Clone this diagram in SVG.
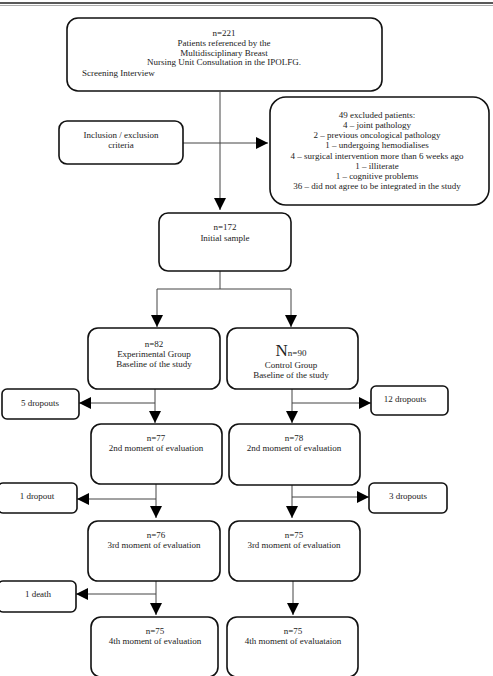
<svg xmlns="http://www.w3.org/2000/svg" width="493" height="676" viewBox="0 0 493 676">
<style>
.box{fill:#fff;stroke:#111;stroke-width:1.6}
.t{font-family:"Liberation Serif","Times New Roman",serif;font-size:9px;fill:#222;text-anchor:middle}
.c{stroke:#444;stroke-width:1;fill:none}
</style>
<defs>
<marker id="ah" markerWidth="12" markerHeight="12" viewBox="0 0 12 12" refX="12" refY="6" orient="auto" markerUnits="userSpaceOnUse">
<path d="M0,0 L12,6 L0,12 Z" fill="#000"/>
</marker>
</defs>
<rect width="493" height="676" fill="#fff"/>
<line x1="0" y1="3" x2="493" y2="3" stroke="#222" stroke-width="1.3"/>
<line x1="0" y1="5.5" x2="493" y2="5.5" stroke="#888" stroke-width="0.7"/>

<g id="connectors">
<path class="c" d="M220,92 V210" marker-end="url(#ah)"/>
<path class="c" d="M183,143 H268" marker-end="url(#ah)"/>
<path class="c" d="M220,271 V289 M157,289 H291"/>
<path class="c" d="M157,289 V327" marker-end="url(#ah)"/>
<path class="c" d="M291,289 V327" marker-end="url(#ah)"/>
<path class="c" d="M155,389 V423" marker-end="url(#ah)"/>
<path class="c" d="M155,403 H79" marker-end="url(#ah)"/>
<path class="c" d="M292,389 V423" marker-end="url(#ah)"/>
<path class="c" d="M292,403 H371" marker-end="url(#ah)"/>
<path class="c" d="M156,484 V518" marker-end="url(#ah)"/>
<path class="c" d="M156,499 H77" marker-end="url(#ah)"/>
<path class="c" d="M292,485 V518" marker-end="url(#ah)"/>
<path class="c" d="M292,497 H369" marker-end="url(#ah)"/>
<path class="c" d="M156,581 V615" marker-end="url(#ah)"/>
<path class="c" d="M156,594 H76" marker-end="url(#ah)"/>
<path class="c" d="M293,581 V615" marker-end="url(#ah)"/>
</g>

<g id="n221">
<rect class="box" x="67" y="18" width="315" height="73" rx="11"/>
<text class="t" x="224" y="36">n=221</text>
<text class="t" x="224" y="46">Patients referenced by the</text>
<text class="t" x="224" y="55.5">Multidisciplinary Breast</text>
<text class="t" x="224" y="65">Nursing Unit Consultation in the IPOLFG.</text>
<text class="t" x="82" y="76" style="text-anchor:start">Screening Interview</text>
</g>

<g id="criteria">
<rect class="box" x="59" y="121" width="124" height="43" rx="8"/>
<text class="t" x="121" y="138">Inclusion / exclusion</text>
<text class="t" x="121" y="148">criteria</text>
</g>

<g id="excluded">
<rect class="box" x="270" y="97" width="219" height="108" rx="16"/>
<text class="t" x="377" y="118">49 excluded patients:</text>
<text class="t" x="377" y="128">4 – joint pathology</text>
<text class="t" x="377" y="138">2 – previous oncological pathology</text>
<text class="t" x="377" y="148">1 – undergoing hemodialises</text>
<text class="t" x="377" y="159">4 – surgical intervention more than 6 weeks ago</text>
<text class="t" x="377" y="169">1 – illiterate</text>
<text class="t" x="377" y="179">1 – cognitive problems</text>
<text class="t" x="377" y="189">36 – did not agree to be integrated in the study</text>
</g>

<g id="n172">
<rect class="box" x="159" y="213" width="132" height="58" rx="9"/>
<text class="t" x="225" y="230">n=172</text>
<text class="t" x="225" y="241">Initial sample</text>
</g>

<g id="n82">
<rect class="box" x="88" y="328" width="132" height="61" rx="10"/>
<text class="t" x="154" y="347">n=82</text>
<text class="t" x="154" y="357">Experimental Group</text>
<text class="t" x="154" y="367">Baseline of the study</text>
</g>

<g id="n90">
<rect class="box" x="227" y="328" width="131" height="61" rx="10"/>
<text class="t" x="291" y="356"><tspan font-size="17">N</tspan>n=90</text>
<text class="t" x="291" y="367.5">Control Group</text>
<text class="t" x="291" y="378">Baseline of the study</text>
</g>

<g id="drop5">
<rect class="box" x="2" y="389" width="77" height="30" rx="5"/>
<text class="t" x="40" y="406">5 dropouts</text>
</g>

<g id="drop12">
<rect class="box" x="371" y="386" width="77" height="29" rx="5"/>
<text class="t" x="405" y="402">12 dropouts</text>
</g>

<g id="n77">
<rect class="box" x="91" y="424" width="131" height="60" rx="10"/>
<text class="t" x="156" y="441">n=77</text>
<text class="t" x="156" y="451">2nd moment of evaluation</text>
</g>

<g id="n78">
<rect class="box" x="229" y="424" width="131" height="61" rx="10"/>
<text class="t" x="294" y="441">n=78</text>
<text class="t" x="294" y="451">2nd moment of evaluation</text>
</g>

<g id="drop1">
<rect class="box" x="-2" y="483" width="79" height="30" rx="5"/>
<text class="t" x="37" y="499">1 dropout</text>
</g>

<g id="drop3">
<rect class="box" x="369" y="483" width="78" height="30" rx="5"/>
<text class="t" x="408" y="499">3 dropouts</text>
</g>

<g id="n76">
<rect class="box" x="88" y="521" width="132" height="60" rx="10"/>
<text class="t" x="156" y="538">n=76</text>
<text class="t" x="154" y="548">3rd moment of evaluation</text>
</g>

<g id="n75a">
<rect class="box" x="229" y="521" width="131" height="60" rx="10"/>
<text class="t" x="294" y="538">n=75</text>
<text class="t" x="294" y="548">3rd moment of evaluation</text>
</g>

<g id="death1">
<rect class="box" x="-2" y="581" width="78" height="31" rx="5"/>
<text class="t" x="38" y="597">1 death</text>
</g>

<g id="n75b">
<rect class="box" x="91" y="617" width="127" height="60" rx="10"/>
<text class="t" x="155" y="634">n=75</text>
<text class="t" x="155" y="644">4th moment of evaluation</text>
</g>

<g id="n75c">
<rect class="box" x="227" y="617" width="131" height="60" rx="10"/>
<text class="t" x="293" y="634">n=75</text>
<text class="t" x="293" y="644">4th moment of evaluataion</text>
</g>
</svg>
